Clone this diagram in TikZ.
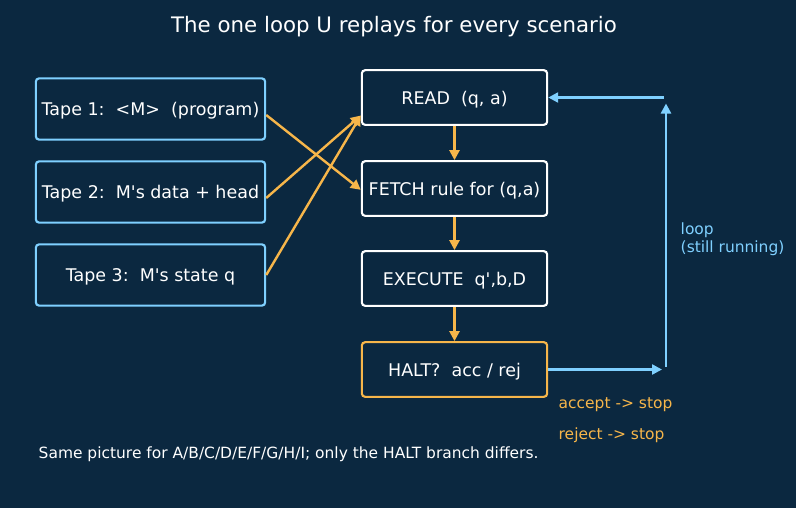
\documentclass[tikz,border=0pt]{standalone}
\usepackage{fontspec}
\setmainfont{DejaVu Sans}
\usetikzlibrary{positioning}
\usetikzlibrary{arrows.meta}

\definecolor{bgnavy}{HTML}{0B2840}
\definecolor{skyline}{HTML}{7FD0FF}
\definecolor{amber}{HTML}{F7B64A}

\tikzset{
 tapebox/.style={draw=skyline,line width=1.6pt,rounded corners=2.5pt,minimum width=172pt,minimum height=46pt,text depth=0pt,text=white,font=\fontsize{13.1}{15}\selectfont},
 stagebox/.style={draw=white,line width=1.6pt,rounded corners=2.5pt,minimum width=139pt,minimum height=41pt,text depth=0pt,text=white,font=\fontsize{13.1}{15}\selectfont},
 flow/.style={amber,line width=1.8pt,-{Triangle[length=7.5pt,width=7.5pt]}},
 loopline/.style={skyline,line width=1.8pt,-{Triangle[length=7.5pt,width=7.5pt]}},
 smalltext/.style={anchor=west,font=\fontsize{11.6}{13.5}\selectfont}
}
\newcommand{\sq}{\textquotesingle}

\begin{document}
\begin{tikzpicture}[x=0.75pt,y=-0.75pt]
 \fill[bgnavy](0,0) rectangle (796,508);
 \useasboundingbox (0,0) rectangle (796,508);

 \node[text=white,font=\fontsize{16}{18}\selectfont] (title) at (394,27) {The one loop U replays for every scenario};

 % tapes
 \node[tapebox] (tape1) at (150.5,109) {Tape 1:\ \ <M>\ \ (program)};
 \node[tapebox] (tape2) at (150.5,192) {Tape 2:\ \ M\sq s data + head};
 \node[tapebox] (tape3) at (150.5,275) {Tape 3:\ \ M\sq s state q};

 % stages
 \node[stagebox] (read) at (454.5,97.5) {READ\ \ (q, a)};
 \node[stagebox] (fetch) at (454.5,188.5) {FETCH rule for (q,a)};
 \node[stagebox] (exec) at (454.5,278.5) {EXECUTE\ \ q\sq,b,D};
 \node[stagebox,draw=amber] (halt) at (454.5,369.5) {HALT?\ \ acc / rej};

 \draw[flow] ([yshift=-4.5pt]tape1.east) -- ([yshift=-1pt]fetch.west);
 \draw[flow] ([yshift=-4.5pt]tape2.east) -- ([yshift=-13.5pt]read.west);
 \draw[flow] (tape3.east) -- ([yshift=-13.5pt]read.west);

 \draw[flow] (read) -- (fetch);
 \draw[flow] (fetch) -- (exec);
 \draw[flow] (exec) -- (halt);

 % loop back
 \coordinate (lowturn) at (666,369.5);
 \coordinate (highturn) at (666,97.5);
 \draw[loopline] (halt.east) -- ([xshift=-3pt]lowturn);
 \draw[loopline] ([yshift=2pt]lowturn) -- ([yshift=-4.5pt]highturn);
 \draw[loopline] ([xshift=-1.5pt]highturn) -- (read.east);
 \node[smalltext,text=skyline,align=left] (looplab) at (676,239) {loop\\(still running)};

 \node[smalltext,text=amber] (acc) at (554,405) {accept -> stop};
 \node[smalltext,text=amber] (rej) at (554,435) {reject -> stop};

 \node[smalltext,text=white] (note) at (34,454) {Same picture for A/B/C/D/E/F/G/H/I; only the HALT branch differs.};
\end{tikzpicture}
\end{document}
